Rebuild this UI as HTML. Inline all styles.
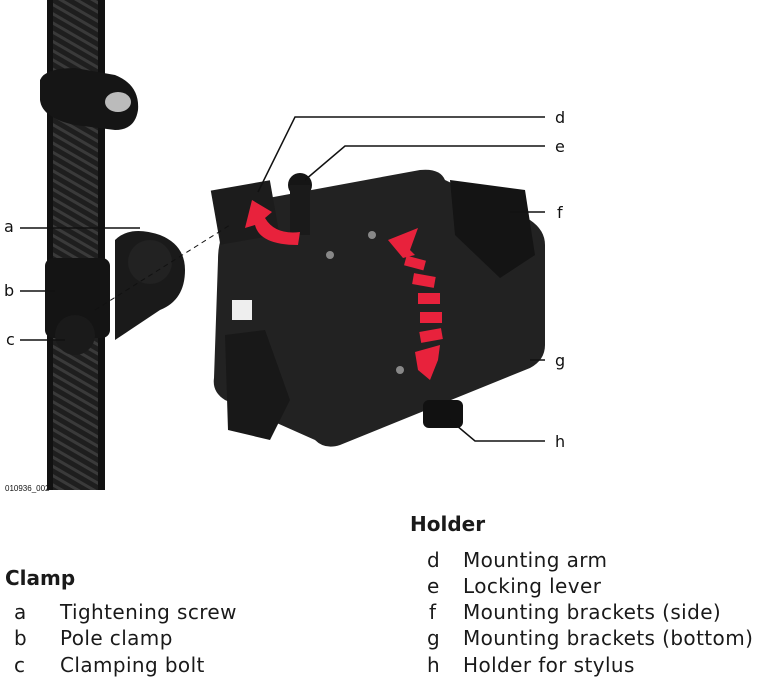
<!DOCTYPE html>
<html><head><meta charset="utf-8"><style>
body{margin:0;background:#fff;width:760px;height:690px;overflow:hidden;font-family:"DejaVu Sans",sans-serif}
svg{position:absolute;left:0;top:0}
.t{position:absolute;font-size:20px;color:#1a1a1a;line-height:1;letter-spacing:0.4px;white-space:nowrap}
.b{font-weight:bold;letter-spacing:0}
</style></head><body>
<svg width="760" height="690" viewBox="0 0 760 690">
<defs>
<pattern id="br" width="8" height="8" patternUnits="userSpaceOnUse" patternTransform="rotate(30)">
<rect width="8" height="8" fill="#1e1e1e"/><rect width="8" height="3" fill="#3a3a3a"/></pattern>
</defs>
<rect x="47" y="0" width="58" height="490" fill="url(#br)"/>
<rect x="47" y="0" width="6" height="490" fill="#111"/>
<rect x="98" y="0" width="7" height="490" fill="#111"/>
<path d="M40 80 Q45 68 75 68 L115 75 Q140 85 138 110 Q135 130 115 130 L75 125 Q42 118 40 100Z" fill="#151515"/>
<ellipse cx="118" cy="102" rx="13" ry="10" fill="#bbb"/>
<rect x="45" y="258" width="65" height="80" rx="8" fill="#141414"/>
<path d="M115 240 Q130 225 160 235 Q185 245 185 270 Q185 300 160 310 L115 340 Z" fill="#1a1a1a"/>
<circle cx="150" cy="262" r="22" fill="#222"/>
<circle cx="75" cy="335" r="20" fill="#1a1a1a"/>
<path d="M230 205 L420 170 Q440 168 445 180 L530 220 Q545 230 545 245 L545 345 Q545 360 530 368 L340 445 Q325 450 315 440 L225 400 Q212 392 214 378 L218 260 Q218 235 230 225 Z" fill="#222"/>
<path d="M450 180 L525 190 L535 255 L500 278 L455 235 Z" fill="#141414"/>
<path d="M225 335 L265 330 L290 400 L270 440 L228 430 Z" fill="#181818"/>
<rect x="215" y="185" width="60" height="55" fill="#1c1c1c" transform="rotate(-10 245 212)"/>
<circle cx="300" cy="185" r="12" fill="#151515"/>
<rect x="290" y="185" width="20" height="50" fill="#1a1a1a"/>
<rect x="423" y="400" width="40" height="28" rx="6" fill="#111"/>
<rect x="232" y="300" width="20" height="20" fill="#eee"/>
<circle cx="330" cy="255" r="4" fill="#888"/><circle cx="372" cy="235" r="4" fill="#888"/>
<circle cx="400" cy="370" r="4" fill="#888"/>
<path d="M252 200 L272 212 L265 218 Q275 235 300 232 L298 245 Q260 245 255 225 L245 228 Z" fill="#e8223c"/>
<path d="M388 240 L418 228 L410 250 L415 255 L403 258 Z" fill="#e8223c"/>
<g fill="#e8223c">
<rect x="405" y="258" width="20" height="10" transform="rotate(15 415 263)"/>
<rect x="413" y="275" width="22" height="11" transform="rotate(10 424 280)"/>
<rect x="418" y="293" width="22" height="11"/>
<rect x="420" y="312" width="22" height="11"/>
<rect x="420" y="330" width="22" height="11" transform="rotate(-10 431 335)"/>
<path d="M415 352 L440 345 L438 360 L430 380 L418 370Z"/>
</g>
<g stroke="#111" stroke-width="1.5" fill="none">
<line x1="20" y1="228" x2="140" y2="228"/>
<line x1="20" y1="291" x2="55" y2="291"/>
<line x1="20" y1="340" x2="65" y2="340"/>
<polyline points="545,117 295,117 258,192"/>
<polyline points="545,146 345,146 305,180"/>
<line x1="510" y1="212" x2="545" y2="212"/>
<line x1="530" y1="360" x2="545" y2="360"/>
<polyline points="450,420 475,441 545,441"/>
<line x1="95" y1="310" x2="230" y2="225" stroke-dasharray="5,4" stroke-width="1"/>
</g>
<g font-family="DejaVu Sans,sans-serif" font-size="16" fill="#111">
<text x="4" y="232">a</text><text x="4" y="296">b</text><text x="6" y="345">c</text>
<text x="555" y="123">d</text><text x="555" y="152">e</text><text x="557" y="218">f</text>
<text x="555" y="366">g</text><text x="555" y="447">h</text>
</g>
<text x="5" y="491" font-family="Liberation Sans,sans-serif" font-size="8" fill="#111">010936_002</text>
</svg>
<div class="t b" style="left:410px;top:514px">Holder</div>
<div class="t" style="left:427px;top:550px">d</div><div class="t" style="left:463px;top:550px">Mounting arm</div>
<div class="t" style="left:427px;top:576px">e</div><div class="t" style="left:463px;top:576px">Locking lever</div>
<div class="t" style="left:429px;top:602px">f</div><div class="t" style="left:463px;top:602px">Mounting brackets (side)</div>
<div class="t" style="left:427px;top:628px">g</div><div class="t" style="left:463px;top:628px">Mounting brackets (bottom)</div>
<div class="t" style="left:427px;top:655px">h</div><div class="t" style="left:463px;top:655px">Holder for stylus</div>
<div class="t b" style="left:5px;top:568px">Clamp</div>
<div class="t" style="left:14px;top:602px">a</div><div class="t" style="left:60px;top:602px">Tightening screw</div>
<div class="t" style="left:14px;top:628px">b</div><div class="t" style="left:60px;top:628px">Pole clamp</div>
<div class="t" style="left:14px;top:655px">c</div><div class="t" style="left:60px;top:655px">Clamping bolt</div>
</body></html>
